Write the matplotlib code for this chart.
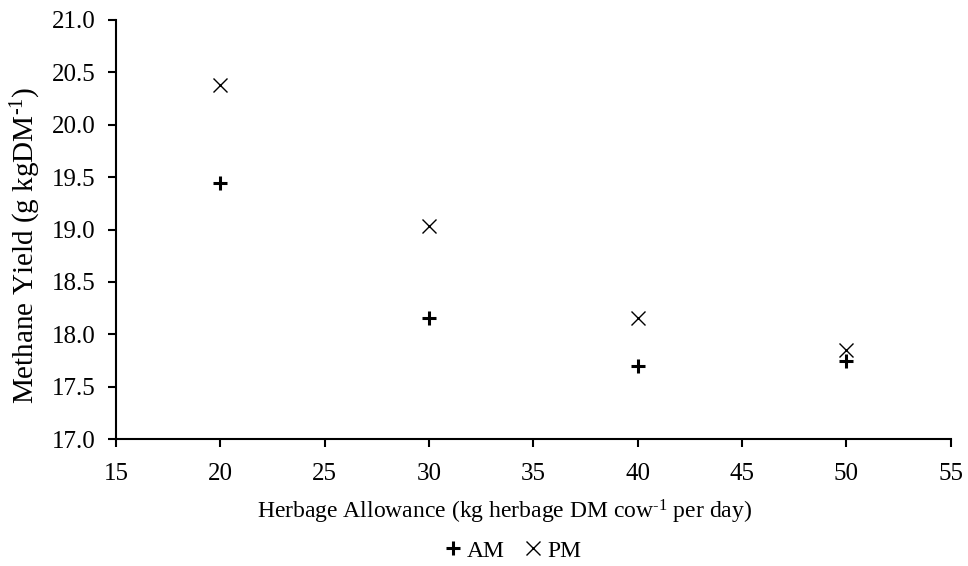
import numpy as np
import matplotlib
matplotlib.use("Agg")
import matplotlib.pyplot as plt

plt.rcParams['font.family'] = ['Liberation Serif']
plt.rcParams['mathtext.fontset'] = 'custom'
plt.rcParams['mathtext.rm'] = 'Liberation Serif'
plt.rcParams['mathtext.it'] = 'Liberation Serif:italic'
plt.rcParams['font.size'] = 17

# herbage allowance vs methane yield
allowance = [20, 30, 40, 50]
am_yield = [19.44, 18.16, 17.70, 17.75]
pm_yield = [20.38, 19.03, 18.16, 17.85]

fig = plt.figure(figsize=(9.68, 5.66), dpi=100)
ax = fig.add_axes([0.120, 0.224, 0.862, 0.741])

ax.plot(allowance, am_yield, linestyle='none', marker='+', color='black',
        markersize=10, markeredgewidth=2.2, label='AM')
ax.plot(allowance, pm_yield, linestyle='none', marker='x', color='black',
        markersize=10, markeredgewidth=1.0, label='PM')

ax.set_xlim(15, 55)
ax.set_ylim(17, 21)
ax.set_xticks(np.arange(15, 56, 5))
ax.set_yticks(np.arange(17, 21.01, 0.5))
ax.set_yticklabels([f'{v:.1f}' for v in np.arange(17, 21.01, 0.5)])

for s in ['top', 'right']:
    ax.spines[s].set_visible(False)
for s in ['left', 'bottom']:
    ax.spines[s].set_linewidth(1.5)
ax.tick_params(direction='out', length=6, width=1.5, labelsize=18, colors='black')
ax.tick_params(axis='y', pad=9)
ax.tick_params(axis='x', pad=11)

ax.set_xlabel(r'Herbage Allowance (kg herbage DM cow$^{\text{-1}}$ per day)', fontsize=17)
ax.xaxis.set_label_coords(0.466, -0.14)
ax.set_ylabel(r'Methane Yield (g kgDM$^{\text{-1}}$)', fontsize=21)
ax.yaxis.set_label_coords(-0.088, 0.463)

fig.legend(loc='lower center', bbox_to_anchor=(0.527, -0.03), ncol=2, frameon=False,
           handletextpad=0.0, columnspacing=0.6, handlelength=1.2, fontsize=17)

fig.savefig('out.png', dpi=100)
